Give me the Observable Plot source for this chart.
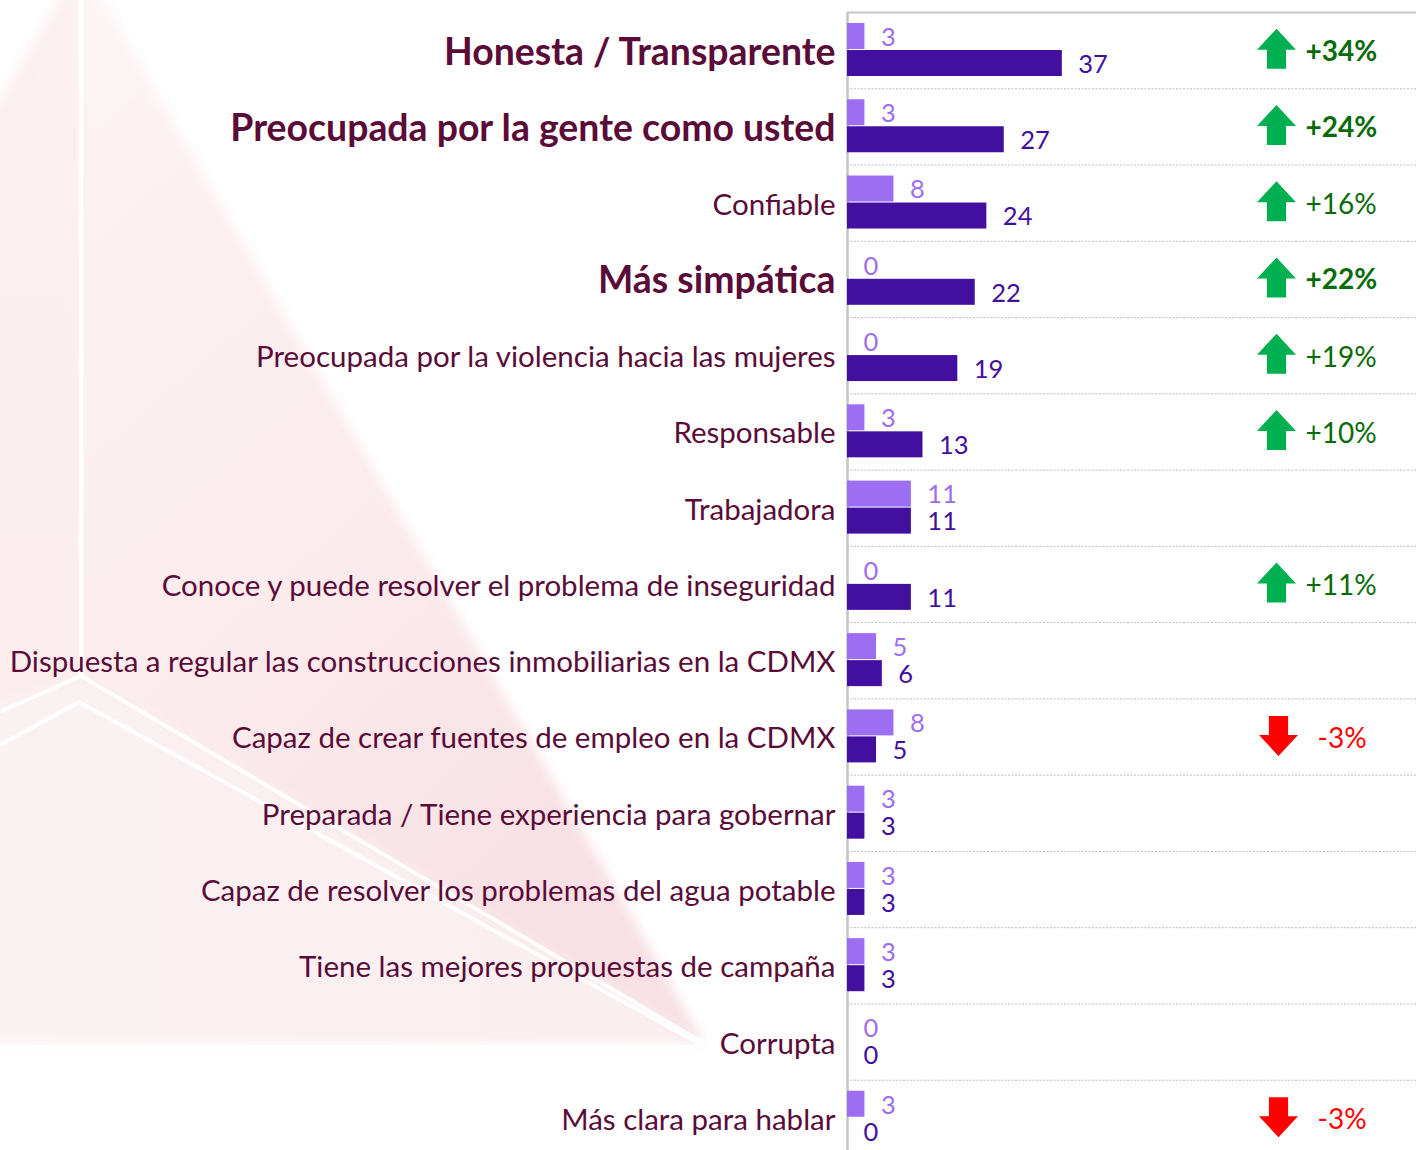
<!DOCTYPE html>
<html><head><meta charset="utf-8">
<script src="https://cdn.jsdelivr.net/npm/d3@7"></script>
<script src="https://cdn.jsdelivr.net/npm/@observablehq/plot@0.6"></script>
<style>
html,body{margin:0;padding:0;background:#fff;}
#wrap{position:relative;width:1416px;height:1150px;overflow:hidden;}
#bg{position:absolute;left:0;top:0;}
#chart{position:absolute;left:0;top:0;}
</style></head><body>
<div id="wrap"><svg id="bg" width="1416" height="1150"></svg><div id="chart"></div></div>
<script>
const categories = [
  "Honesta / Transparente",
  "Preocupada por la gente como usted",
  "Confiable",
  "Más simpática",
  "Preocupada por la violencia hacia las mujeres",
  "Responsable",
  "Trabajadora",
  "Conoce y puede resolver el problema de inseguridad",
  "Dispuesta a regular las construcciones inmobiliarias en la CDMX",
  "Capaz de crear fuentes de empleo en la CDMX",
  "Preparada / Tiene experiencia para gobernar",
  "Capaz de resolver los problemas del agua potable",
  "Tiene las mejores propuestas de campaña",
  "Corrupta",
  "Más clara para hablar"
];
const previous = [3, 3, 8, 0, 0, 3, 11, 0, 5, 8, 3, 3, 3, 0, 3];
const current  = [37, 27, 24, 22, 19, 13, 11, 11, 6, 5, 3, 3, 3, 0, 0];
const changes  = ["+34%", "+24%", "+16%", "+22%", "+19%", "+10%", "", "+11%", "", "-3%", "", "", "", "", "-3%"];
const emphasized = ["Honesta / Transparente", "Preocupada por la gente como usted", "Más simpática"];

const rows = categories.map((c, i) => ({
  cat: c, prev: previous[i], curr: current[i], change: changes[i],
  bold: emphasized.includes(c), up: changes[i].startsWith("+"), down: changes[i].startsWith("-")
}));

// decorative faint background pyramid
(function(){
  const svg = d3.select("#bg");
  const defs = svg.append("defs");
  const f = defs.append("filter").attr("id","soft").attr("x","-20%").attr("y","-20%").attr("width","140%").attr("height","140%");
  f.append("feGaussianBlur").attr("stdDeviation", 6);
  const g1 = defs.append("linearGradient").attr("id","gr").attr("x1",0).attr("y1",0).attr("x2",0.5).attr("y2",1);
  g1.append("stop").attr("offset","0").attr("stop-color","#fdf5f6");
  g1.append("stop").attr("offset","0.6").attr("stop-color","#fbebed");
  g1.append("stop").attr("offset","1").attr("stop-color","#f8e0e4");
  const g2 = defs.append("linearGradient").attr("id","gl").attr("x1",0).attr("y1",0).attr("x2",0).attr("y2",1);
  g2.append("stop").attr("offset","0").attr("stop-color","#fcf1f2");
  g2.append("stop").attr("offset","1").attr("stop-color","#fbeced");
  const g3 = defs.append("linearGradient").attr("id","gb").attr("x1",0).attr("y1",0).attr("x2",1).attr("y2",0);
  g3.append("stop").attr("offset","0").attr("stop-color","#faf2f3");
  g3.append("stop").attr("offset","1").attr("stop-color","#f9eef0");
  const line = d3.line();
  const g = svg.append("g").attr("filter","url(#soft)");
  g.append("path").attr("d", line([[81,-40],[-60,200],[-60,720],[0,712],[81,676]])+"Z").attr("fill","url(#gl)");
  g.append("path").attr("d", line([[81,-40],[81,676],[705,1044]])+"Z").attr("fill","url(#gr)");
  g.append("path").attr("d", line([[81,676],[-60,720],[-60,1044],[705,1044]])+"Z").attr("fill","url(#gb)");
  const w = svg.append("g").attr("stroke","#fff").attr("fill","none").attr("opacity",0.95);
  w.append("path").attr("d", line([[81,-10],[81,676]])).attr("stroke-width",5);
  w.append("path").attr("d", line([[0,712],[81,676],[705,1044]])).attr("stroke-width",4);
  w.append("path").attr("d", line([[0,745],[79,702],[700,1044]])).attr("stroke-width",4);
  w.append("path").attr("d", line([[0,1050],[720,1050]])).attr("stroke-width",10);
})();

const arrowUp = {draw(ctx, size){
  const r = Math.sqrt(size / Math.PI);
  const hw = r * 0.975, sw = r * 0.48, hh = r * 1.05;
  ctx.moveTo(0, -r); ctx.lineTo(hw, -r + hh); ctx.lineTo(sw, -r + hh); ctx.lineTo(sw, r);
  ctx.lineTo(-sw, r); ctx.lineTo(-sw, -r + hh); ctx.lineTo(-hw, -r + hh); ctx.closePath();
}};
const arrowDown = {draw(ctx, size){
  const r = Math.sqrt(size / Math.PI);
  const hw = r * 0.975, sw = r * 0.48, hh = r * 1.05;
  ctx.moveTo(0, r); ctx.lineTo(hw, r - hh); ctx.lineTo(sw, r - hh); ctx.lineTo(sw, -r);
  ctx.lineTo(-sw, -r); ctx.lineTo(-sw, r - hh); ctx.lineTo(-hw, r - hh); ctx.closePath();
}};

const H = 1156, MT = 12, MB = 0;
const step = (H - MT - MB) / categories.length;
const font = "Lato, 'Open Sans', sans-serif";
const lightC = "#9d6ef2", darkC = "#430f9e", labelC = "#5b0b38";

const chart = Plot.plot({
  width: 1416, height: H,
  marginLeft: 847, marginRight: 0, marginTop: MT, marginBottom: MB,
  x: {domain: [0, 98], axis: null},
  y: {domain: categories, padding: 0, round: false, axis: null},
  style: {background: "transparent", fontFamily: font, overflow: "visible"},
  marks: [
    Plot.ruleY(rows.slice(0, -1), {y: "cat", dy: step / 2, stroke: "#bcbcbc", strokeDasharray: "2,1.5", strokeWidth: 1}),
    Plot.ruleY(rows.slice(0, 1), {y: "cat", dy: -step / 2, stroke: "#c8c8c8", strokeWidth: 2}),
    Plot.ruleX([0], {stroke: "#c4c4c4", strokeWidth: 2.5}),
    Plot.barX(rows, {y: "cat", x: "prev", fill: lightC, insetTop: 11, insetBottom: step - 37}),
    Plot.barX(rows, {y: "cat", x: "curr", fill: darkC, insetTop: 38, insetBottom: step - 64}),
    Plot.text(rows, {y: "cat", x: "prev", text: d => String(d.prev), dx: 16, dy: -13, textAnchor: "start", fill: lightC, fontSize: 25.5}),
    Plot.text(rows, {y: "cat", x: "curr", text: d => String(d.curr), dx: 16, dy: 14, textAnchor: "start", fill: darkC, fontSize: 25.5}),
    Plot.text(rows.filter(d => !d.bold), {y: "cat", text: "cat", frameAnchor: "left", dx: -12, dy: 2, textAnchor: "end", fill: labelC, fontSize: 29.5}),
    Plot.text(rows.filter(d => d.bold), {y: "cat", text: "cat", frameAnchor: "left", dx: -12, dy: 2, textAnchor: "end", fill: labelC, fontSize: 37.4, fontWeight: 700}),
    Plot.dot(rows.filter(d => d.up), {y: "cat", frameAnchor: "right", dx: -140, dy: -2, symbol: arrowUp, r: 20, fill: "#00b050", stroke: "none"}),
    Plot.dot(rows.filter(d => d.down), {y: "cat", frameAnchor: "right", dx: -138, dy: -1, symbol: arrowDown, r: 20, fill: "#ff0000", stroke: "none"}),
    Plot.text(rows.filter(d => d.up && d.bold), {y: "cat", text: "change", frameAnchor: "right", dx: -111, dy: 1, textAnchor: "start", fill: "#086b08", fontSize: 28, fontWeight: 700}),
    Plot.text(rows.filter(d => d.up && !d.bold), {y: "cat", text: "change", frameAnchor: "right", dx: -111, dy: 2, textAnchor: "start", fill: "#086b08", fontSize: 28}),
    Plot.text(rows.filter(d => d.down), {y: "cat", text: "change", frameAnchor: "right", dx: -99, dy: 2, textAnchor: "start", fill: "#ff0000", fontSize: 28})
  ]
});
document.getElementById("chart").appendChild(chart);
</script>
</body></html>
